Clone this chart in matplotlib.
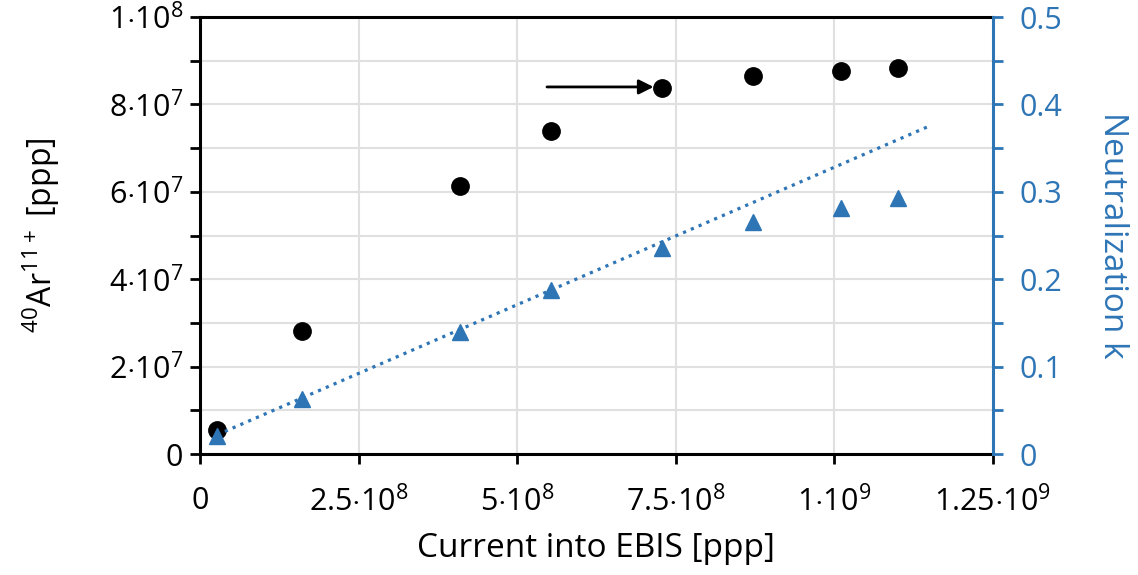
import matplotlib
matplotlib.use("Agg")
import matplotlib.pyplot as plt
from matplotlib.ticker import MultipleLocator, FuncFormatter

plt.rcParams["font.family"] = ["Open Sans", "DejaVu Sans"]
plt.rcParams["mathtext.fontset"] = "custom"
plt.rcParams["mathtext.rm"] = "Open Sans"
plt.rcParams["mathtext.it"] = "Open Sans"

# data
current = [2.7e7, 1.61e8, 4.1e8, 5.54e8, 7.29e8, 8.72e8, 1.01e9, 1.10e9]
ar_ions = [5.5e6, 2.81e7, 6.13e7, 7.39e7, 8.38e7, 8.65e7, 8.76e7, 8.83e7]
neutral_k = [0.021, 0.063, 0.14, 0.188, 0.236, 0.266, 0.282, 0.293]
trend_x = [2.7e7, 1.152e9]
trend_k = [0.022, 0.376]
arrow_from = (5.47e8, 8.4e7)
arrow_to = (7.15e8, 8.4e7)

BLUE = "#2E75B6"

def sci(v, pos):
    if v == 0:
        return "0"
    e = 0
    m = v
    while m >= 10:
        m /= 10
        e += 1
    ms = f"{m:g}"
    return r"$%s{\cdot}10^{%d}$" % (ms, e)

fig = plt.figure(figsize=(11.38, 5.75), dpi=100)
ax = fig.add_axes([0.1757, 0.2104, 0.6969, 0.76])
ax2 = ax.twinx()

ax.plot(current, ar_ions, "o", color="black", ms=12.5, zorder=5)
ax2.plot(current, neutral_k, "^", color=BLUE, ms=12, zorder=5)
ax2.plot(trend_x, trend_k, ":", color=BLUE, lw=2.3)

ax.annotate("", xy=arrow_to, xytext=arrow_from,
            arrowprops=dict(arrowstyle="-|>", color="black", lw=2,
                            mutation_scale=22, shrinkA=0, shrinkB=0))

ax.set_xlim(0, 1.25e9)
ax.set_ylim(0, 1e8)
ax2.set_ylim(0, 0.5)

ax.xaxis.set_major_locator(MultipleLocator(2.5e8))
ax.yaxis.set_major_locator(MultipleLocator(2e7))
ax.yaxis.set_minor_locator(MultipleLocator(1e7))
ax.xaxis.set_major_formatter(FuncFormatter(sci))
ax.yaxis.set_major_formatter(FuncFormatter(sci))
ax2.yaxis.set_major_locator(MultipleLocator(0.1))
ax2.yaxis.set_minor_locator(MultipleLocator(0.05))
ax2.yaxis.set_major_formatter(FuncFormatter(lambda v, p: "0" if v == 0 else f"{v:.1f}"))

ax.grid(True, which="both", color="#e0e0e0", lw=1.5)
ax.set_axisbelow(True)

for s in ["left", "bottom", "top"]:
    ax.spines[s].set_linewidth(2.2)
ax.spines["right"].set_visible(False)
ax2.spines["right"].set_color(BLUE)
ax2.spines["right"].set_linewidth(2.2)
for s in ["left", "bottom", "top"]:
    ax2.spines[s].set_visible(False)

ax.tick_params(axis="both", which="both", direction="out", width=2, length=7,
               labelsize=22, pad=5)
ax.tick_params(axis="x", pad=16)
ax2.tick_params(axis="y", which="both", direction="out", width=2, length=7,
                colors=BLUE, labelsize=22, pad=12)

ax.set_xlabel("Current into EBIS [ppp]", fontsize=24, labelpad=10)
ax.set_ylabel(r"$^{40}$Ar$^{11+}$ [ppp]", fontsize=23, labelpad=34)
ax2.set_ylabel("Neutralization k", fontsize=24, color=BLUE, rotation=270,
               labelpad=48)

fig.savefig("out.png", dpi=100)
